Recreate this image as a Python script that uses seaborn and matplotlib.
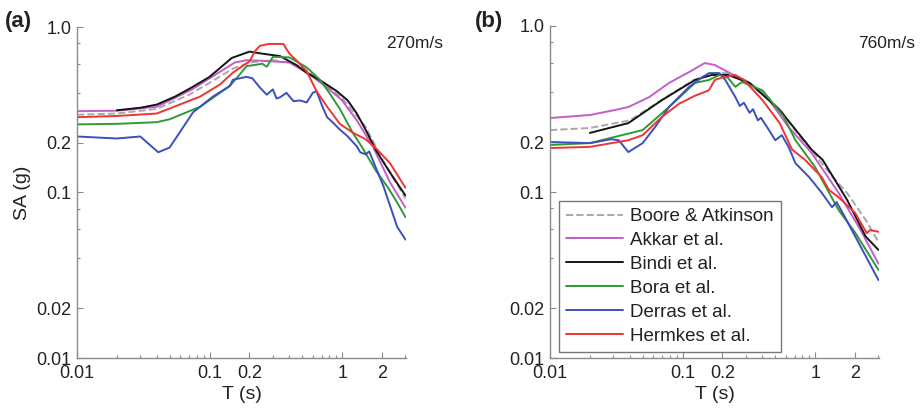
import numpy as np
import pandas as pd
import matplotlib
matplotlib.use("Agg")
import matplotlib.pyplot as plt
from matplotlib.ticker import FixedLocator, FixedFormatter, LogLocator, NullFormatter
import seaborn as sns

sns.set_style("white")
plt.rcParams["font.family"] = ["Liberation Sans", "DejaVu Sans"]

models = ["Boore & Atkinson", "Akkar et al.", "Bindi et al.", "Bora et al.", "Derras et al.", "Hermkes et al."]
colors = ["#a8a8a8", "#c45ec8", "#151515", "#2f9a35", "#3b4fbf", "#ef3434"]
styles = ["--", "-", "-", "-", "-", "-"]

# ---- Vs30 = 270 m/s ----
t_ba_270 = [0.01, 0.02, 0.04, 0.07, 0.1, 0.15, 0.2, 0.3, 0.4, 0.5, 0.7, 1.0, 1.5, 2.0, 3.0]
sa_ba_270 = [0.295, 0.30, 0.32, 0.39, 0.46, 0.56, 0.61, 0.63, 0.61, 0.57, 0.47, 0.37, 0.25, 0.16, 0.092]

t_ak_270 = [0.01, 0.02, 0.04, 0.074, 0.1, 0.155, 0.19, 0.25, 0.3, 0.4, 0.48, 0.6, 0.8, 1.0, 1.3, 1.7, 2.3, 3.0]
sa_ak_270 = [0.31, 0.312, 0.33, 0.42, 0.49, 0.61, 0.63, 0.625, 0.62, 0.61, 0.56, 0.50, 0.42, 0.36, 0.27, 0.19, 0.115, 0.081]

t_bi_270 = [0.02, 0.03, 0.04, 0.055, 0.074, 0.1, 0.147, 0.2, 0.25, 0.34, 0.45, 0.54, 0.7, 0.91, 1.1, 1.29, 1.5, 1.8, 2.05, 2.4, 3.0]
sa_bi_270 = [0.314, 0.325, 0.34, 0.38, 0.433, 0.50, 0.65, 0.71, 0.69, 0.667, 0.59, 0.53, 0.47, 0.41, 0.36, 0.30, 0.24, 0.18, 0.152, 0.125, 0.096]

t_bo_270 = [0.01, 0.02, 0.04, 0.05, 0.085, 0.142, 0.17, 0.19, 0.22, 0.25, 0.27, 0.30, 0.40, 0.54, 0.68, 0.8, 0.96, 1.2, 1.4, 1.8, 2.2, 2.6, 3.0]
sa_bo_270 = [0.258, 0.26, 0.266, 0.277, 0.33, 0.44, 0.52, 0.58, 0.59, 0.60, 0.575, 0.66, 0.655, 0.57, 0.48, 0.40, 0.32, 0.23, 0.19, 0.135, 0.108, 0.087, 0.071]

t_de_270 = [0.01, 0.02, 0.03, 0.041, 0.05, 0.075, 0.106, 0.142, 0.15, 0.19, 0.21, 0.24, 0.27, 0.30, 0.32, 0.34, 0.38, 0.43, 0.48, 0.54, 0.60, 0.64, 0.71, 0.77, 0.85, 0.96, 1.09, 1.29, 1.37, 1.5, 1.6, 2.05, 2.6, 3.0]
sa_de_270 = [0.218, 0.212, 0.218, 0.175, 0.187, 0.305, 0.38, 0.44, 0.48, 0.50, 0.49, 0.43, 0.39, 0.42, 0.37, 0.376, 0.40, 0.356, 0.36, 0.35, 0.40, 0.41, 0.33, 0.285, 0.265, 0.24, 0.22, 0.19, 0.175, 0.17, 0.177, 0.109, 0.062, 0.052]

t_he_270 = [0.01, 0.02, 0.04, 0.085, 0.12, 0.15, 0.2, 0.22, 0.24, 0.28, 0.36, 0.40, 0.46, 0.54, 0.64, 0.77, 0.96, 1.2, 1.5, 1.8, 2.3, 3.0]
sa_he_270 = [0.285, 0.29, 0.30, 0.38, 0.45, 0.53, 0.62, 0.715, 0.77, 0.79, 0.79, 0.69, 0.62, 0.54, 0.41, 0.33, 0.26, 0.23, 0.21, 0.185, 0.15, 0.107]

# ---- Vs30 = 760 m/s ----
t_ba_760 = [0.01, 0.02, 0.04, 0.07, 0.12, 0.17, 0.22, 0.3, 0.4, 0.55, 0.75, 1.0, 1.3, 1.75, 2.4, 3.0]
sa_ba_760 = [0.236, 0.243, 0.27, 0.36, 0.47, 0.52, 0.52, 0.47, 0.40, 0.31, 0.22, 0.168, 0.128, 0.098, 0.068, 0.05]

t_ak_760 = [0.01, 0.02, 0.031, 0.039, 0.056, 0.079, 0.112, 0.147, 0.175, 0.22, 0.32, 0.45, 0.63, 0.94, 1.5, 2.2, 3.0]
sa_ak_760 = [0.279, 0.291, 0.312, 0.325, 0.373, 0.454, 0.528, 0.598, 0.582, 0.528, 0.454, 0.358, 0.246, 0.172, 0.099, 0.059, 0.037]

t_bi_760 = [0.02, 0.039, 0.07, 0.124, 0.166, 0.22, 0.32, 0.54, 0.94, 1.14, 1.75, 2.4, 3.0]
sa_bi_760 = [0.227, 0.26, 0.358, 0.473, 0.507, 0.507, 0.454, 0.312, 0.18, 0.156, 0.089, 0.054, 0.0448]

t_bo_760 = [0.01, 0.02, 0.031, 0.05, 0.079, 0.124, 0.158, 0.19, 0.22, 0.25, 0.28, 0.4, 0.58, 0.71, 1.0, 1.5, 2.0, 3.0]
sa_bo_760 = [0.192, 0.197, 0.215, 0.236, 0.325, 0.454, 0.473, 0.507, 0.487, 0.43, 0.46, 0.41, 0.284, 0.205, 0.141, 0.078, 0.057, 0.034]

t_de_760 = [0.01, 0.02, 0.029, 0.033, 0.039, 0.05, 0.062, 0.079, 0.112, 0.14, 0.158, 0.19, 0.21, 0.25, 0.27, 0.29, 0.32, 0.34, 0.37, 0.39, 0.45, 0.5, 0.56, 0.63, 0.71, 0.9, 1.12, 1.34, 1.45, 1.67, 2.2, 3.0]
sa_de_760 = [0.2, 0.197, 0.208, 0.205, 0.174, 0.197, 0.246, 0.325, 0.43, 0.49, 0.52, 0.52, 0.473, 0.373, 0.33, 0.345, 0.30, 0.315, 0.27, 0.28, 0.235, 0.205, 0.22, 0.187, 0.149, 0.123, 0.099, 0.081, 0.087, 0.071, 0.047, 0.0295]

t_he_760 = [0.01, 0.02, 0.039, 0.05, 0.07, 0.094, 0.124, 0.158, 0.175, 0.2, 0.25, 0.29, 0.4, 0.54, 0.67, 0.84, 1.12, 1.27, 1.5, 2.0, 2.45, 2.6, 3.0]
sa_he_760 = [0.184, 0.187, 0.205, 0.22, 0.284, 0.34, 0.38, 0.41, 0.473, 0.49, 0.507, 0.473, 0.358, 0.26, 0.18, 0.156, 0.123, 0.103, 0.093, 0.075, 0.0565, 0.059, 0.0576]

panels = [
    ("(a)", "270m/s", [(t_ba_270, sa_ba_270), (t_ak_270, sa_ak_270), (t_bi_270, sa_bi_270),
                       (t_bo_270, sa_bo_270), (t_de_270, sa_de_270), (t_he_270, sa_he_270)]),
    ("(b)", "760m/s", [(t_ba_760, sa_ba_760), (t_ak_760, sa_ak_760), (t_bi_760, sa_bi_760),
                       (t_bo_760, sa_bo_760), (t_de_760, sa_de_760), (t_he_760, sa_he_760)]),
]

xticks = [0.01, 0.1, 0.2, 1, 2]
xticklabels = ["0.01", "0.1", "0.2", "1", "2"]
yticks = [0.01, 0.02, 0.1, 0.2, 1.0]
yticklabels = ["0.01", "0.02", "0.1", "0.2", "1.0"]

fig = plt.figure(figsize=(9.24, 4.15), dpi=100)
axes_rects = [[77 / 924, 57 / 415, 329 / 924, 331 / 415],
              [550 / 924, 57 / 415, 329 / 924, 332 / 415]]

spine_col = "#8a8a8a"
text_col = "#222222"

for i, (tag, vs, series) in enumerate(panels):
    ax = fig.add_axes(axes_rects[i])
    for name, col, ls, (t, sa) in zip(models, colors, styles, series):
        df = pd.DataFrame({"T": t, "SA": sa})
        sns.lineplot(data=df, x="T", y="SA", ax=ax, color=col, linestyle=ls,
                     linewidth=1.4, label=name, estimator=None, sort=False)
    ax.set_xscale("log")
    ax.set_yscale("log")
    ax.set_xlim(0.01, 3.03)
    ax.set_ylim(0.01, 1.0)
    ax.xaxis.set_major_locator(FixedLocator(xticks))
    ax.xaxis.set_major_formatter(FixedFormatter(xticklabels))
    ax.yaxis.set_major_locator(FixedLocator(yticks))
    ax.yaxis.set_major_formatter(FixedFormatter(yticklabels))
    ax.xaxis.set_minor_locator(LogLocator(base=10, subs=np.arange(2, 10)))
    ax.yaxis.set_minor_locator(LogLocator(base=10, subs=[4.0, 6.0, 8.0]))
    ax.xaxis.set_minor_formatter(NullFormatter())
    ax.yaxis.set_minor_formatter(NullFormatter())
    ax.tick_params(which="both", direction="in", bottom=True, left=True, top=False, right=False,
                   colors=spine_col, labelcolor=text_col, labelsize=13, width=0.8)
    ax.tick_params(which="major", length=4)
    ax.tick_params(which="minor", length=2.5)
    ax.tick_params(axis="x", pad=5)
    ax.tick_params(axis="y", pad=4)
    for s in ["top", "right"]:
        ax.spines[s].set_visible(False)
    for s in ["left", "bottom"]:
        ax.spines[s].set_color(spine_col)
        ax.spines[s].set_linewidth(1.0)
    ax.set_xlabel("T (s)", fontsize=14, color=text_col, labelpad=3)
    if i == 0:
        ax.set_ylabel("SA (g)", fontsize=14, color=text_col, labelpad=4)
        ax.get_legend().remove()
    else:
        ax.set_ylabel("")
        leg = ax.legend(loc="lower left", bbox_to_anchor=(0.027, 0.018), fontsize=13.5,
                        handlelength=3.0, labelspacing=0.36, borderpad=0.4,
                        handletextpad=0.4, borderaxespad=0.0, fancybox=False, framealpha=1)
        leg.get_frame().set_edgecolor("#777777")
        leg.get_frame().set_linewidth(1.0)
        for txt in leg.get_texts():
            txt.set_color(text_col)

fig.text(5 / 924, 1 - 22 / 415, "(a)", fontsize=16, fontweight="bold", color=text_col, va="center", ha="left")
fig.text(475 / 924, 1 - 22 / 415, "(b)", fontsize=16, fontweight="bold", color=text_col, va="center", ha="left")
fig.text(443 / 924, 1 - 43 / 415, "270m/s", fontsize=12.5, color=text_col, va="center", ha="right")
fig.text(915 / 924, 1 - 43 / 415, "760m/s", fontsize=12.5, color=text_col, va="center", ha="right")

fig.savefig("out.png", dpi=100)
